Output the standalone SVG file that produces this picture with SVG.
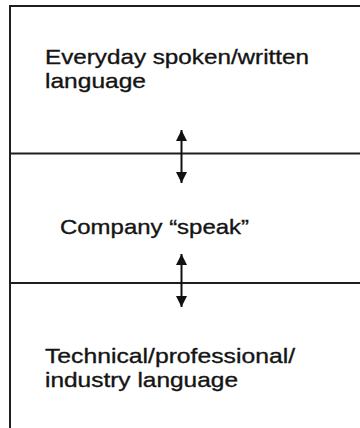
<svg xmlns="http://www.w3.org/2000/svg" width="360" height="428" viewBox="0 0 360 428">
<style>
.frame{stroke:#1e1e1e;stroke-width:2;fill:none}
.conn{stroke:#111;stroke-width:2;fill:none;marker-start:url(#ah);marker-end:url(#ah)}
.lbl{font-family:"Liberation Sans",Arial,sans-serif;font-size:21px;fill:#141414;stroke:#141414;stroke-width:0.35}
</style>
<defs>
<marker id="ah" viewBox="0 0 11 11" refX="11" refY="5.5" markerWidth="11" markerHeight="11" markerUnits="userSpaceOnUse" orient="auto-start-reverse">
<path d="M0,0 L11,5.5 L0,11 z" fill="#111"/>
</marker>
</defs>
<g id="frame">
<line class="frame" x1="10" y1="5" x2="10" y2="428"/>
<line class="frame" x1="9" y1="6" x2="360" y2="6"/>
</g>
<g id="everyday">
<line class="frame" x1="10" y1="153.5" x2="360" y2="153.5"/>
<text class="lbl" x="45" y="64" textLength="264" lengthAdjust="spacingAndGlyphs">Everyday spoken/written</text>
<text class="lbl" x="45" y="88" textLength="101" lengthAdjust="spacingAndGlyphs">language</text>
</g>
<g id="company">
<line class="frame" x1="10" y1="283" x2="360" y2="283"/>
<text class="lbl" x="60" y="234" textLength="189" lengthAdjust="spacingAndGlyphs">Company “speak”</text>
</g>
<g id="technical">
<text class="lbl" x="45" y="363" textLength="250" lengthAdjust="spacingAndGlyphs">Technical/professional/</text>
<text class="lbl" x="45" y="387" textLength="193" lengthAdjust="spacingAndGlyphs">industry language</text>
</g>
<g id="connectors">
<line class="conn" x1="181.5" y1="130" x2="181.5" y2="183"/>
<line class="conn" x1="181.5" y1="254" x2="181.5" y2="307"/>
</g>
</svg>
